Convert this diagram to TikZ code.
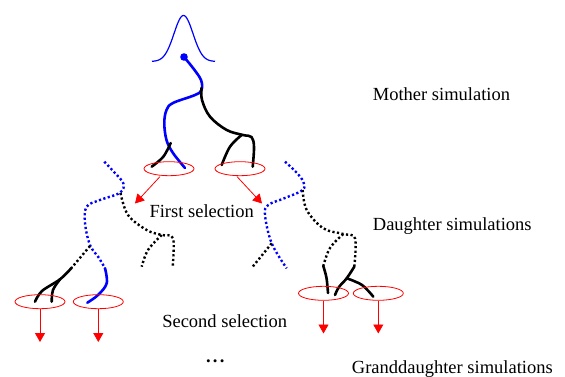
\documentclass[tikz,border=0pt]{standalone}
\usepackage{fontspec}
\setmainfont{Liberation Serif}
\usetikzlibrary{arrows.meta,shapes.geometric}
\begin{document}
\begin{tikzpicture}[x=1pt,y=-1pt,
  solidb/.style={blue,line width=2.6pt,line cap=round},
  solidk/.style={black,line width=2.6pt,line cap=round},
  dotb/.style={blue,line width=2.4pt,dash pattern=on 2.2pt off 2.4pt},
  dotk/.style={black,line width=2.4pt,dash pattern=on 2.2pt off 2.4pt},
  sel/.style={draw=red,ellipse,minimum width=50pt,minimum height=14pt,inner sep=0pt,line width=0.8pt},
  selarrow/.style={red,line width=0.8pt,-{Triangle[width=10pt,length=9pt]}},
  lbl/.style={font=\fontsize{18.5}{22}\selectfont,inner sep=0pt}
]
\useasboundingbox (0,0) rectangle (565,377);
% Gaussian
\draw[blue,line width=1.2pt] plot[domain=152:215,samples=80] (\x,{61.5-46*exp(-((\x-183.5)^2)/(2*9.5^2))});
\fill[blue] (184,57) circle (3.8pt);
% mother trajectories
\draw[solidb] plot[smooth,tension=0.6] coordinates {(184,57) (193,68) (201,80) (201.5,90) (195,95) (173,103) (166.5,110) (164.3,123) (166.5,140) (173,153) (185,168)};
\draw[solidk] plot[smooth,tension=0.6] coordinates {(201.5,88) (202,100) (210,116.7) (226.7,130) (243,135) (251.5,137) (254,147) (252.7,166.7)};
\draw[solidk] plot[smooth,tension=0.6] coordinates {(241.7,135) (230,146.7) (221.7,165)};
\draw[solidk] plot[smooth,tension=0.6] coordinates {(170.7,143) (163.3,156.7) (151.7,166.7)};
% first selection
\node[sel] (s1) at (169,168.7) {};
\node[sel] (s2) at (240,168.7) {};
\coordinate (t1) at (135,203.5);
\coordinate (t2) at (262,203.5);
\draw[selarrow] (s1.south) ++(-9,0.5) coordinate (a1) -- (t1);
\draw[selarrow] (s2.south) ++(-3,0.5) coordinate (a2) -- (t2);
\node[lbl] (fs) at (201.7,211) {First selection};
% left daughter
\draw[dotb] plot[smooth,tension=0.6] coordinates {(104.3,161.7) (114,172) (123.3,183.3) (120,192.7) (100,200) (86.7,206.7) (85,223) (90,245) (99,258) (105,268.3)};
\draw[solidb] plot[smooth,tension=0.6] coordinates {(105,268.3) (106.7,283.3) (98,295) (87.3,302.7)};
\draw[dotk] plot[smooth,tension=0.6] coordinates {(120.5,193) (128,215) (146.7,230) (161.7,235) (173,238.3) (172.7,266.7)};
\draw[dotk] plot[smooth,tension=0.6] coordinates {(161.7,235) (148,250) (141.7,266.7)};
\draw[dotk] (90,246) -- (71.7,267.7);
\draw[solidk] plot[smooth,tension=0.6] coordinates {(71.7,267.7) (60,279.3) (42,291) (35,301.7)};
\draw[solidk] plot[smooth,tension=0.6] coordinates {(60,279.3) (53,290) (51.7,301.7)};
% right daughter
\draw[dotb] plot[smooth,tension=0.6] coordinates {(285,161.7) (296,172) (303.3,181.7) (302.7,190) (285,198) (268.3,205) (265,215) (271.7,243.3) (286.7,268.3)};
\draw[dotk] (271.7,243.3) -- (252.7,266.7);
\draw[dotk] plot[smooth,tension=0.6] coordinates {(302.7,190) (306.7,210) (323.3,228.3) (343.3,234) (355,238.3) (354.3,266.7)};
\draw[dotk] plot[smooth,tension=0.6] coordinates {(343.3,234) (330,248) (323.3,266)};
\draw[solidk] plot[smooth,tension=0.6] coordinates {(323.3,266) (326.5,278) (328,293)};
\draw[solidk] plot[smooth,tension=0.6] coordinates {(354.3,266.7) (346.7,278.3) (339,287) (335,295)};
\draw[solidk] plot[smooth,tension=0.6] coordinates {(346.7,278.3) (362,285) (373.3,296.7)};
% second selection
\node[sel] (s3) at (40,301.7) {};
\node[sel] (s4) at (98.3,301.7) {};
\node[sel] (s5) at (323.5,293.3) {};
\node[sel] (s6) at (378.3,293.3) {};
\coordinate (t3) at (40,342);
\coordinate (t4) at (98.3,342);
\coordinate (t5) at (323.5,333.5);
\coordinate (t6) at (378.3,333.5);
\draw[selarrow] (s3.south) -- (t3);
\draw[selarrow] (s4.south) -- (t4);
\draw[selarrow] (s5.south) -- (t5);
\draw[selarrow] (s6.south) -- (t6);
\node[lbl] (ss) at (224.7,321) {Second selection};
% labels
\node[lbl,anchor=base west] (ms) at (372.7,100.7) {Mother simulation};
\node[lbl,anchor=base west] (ds) at (372.7,230) {Daughter simulations};
\node[lbl,anchor=base west] (gs) at (351.7,373) {Granddaughter simulations};
\node[lbl] (dots) at (215.3,361.7) {\bfseries .\hspace{2.2pt}.\hspace{2.2pt}.};
\end{tikzpicture}
\end{document}
